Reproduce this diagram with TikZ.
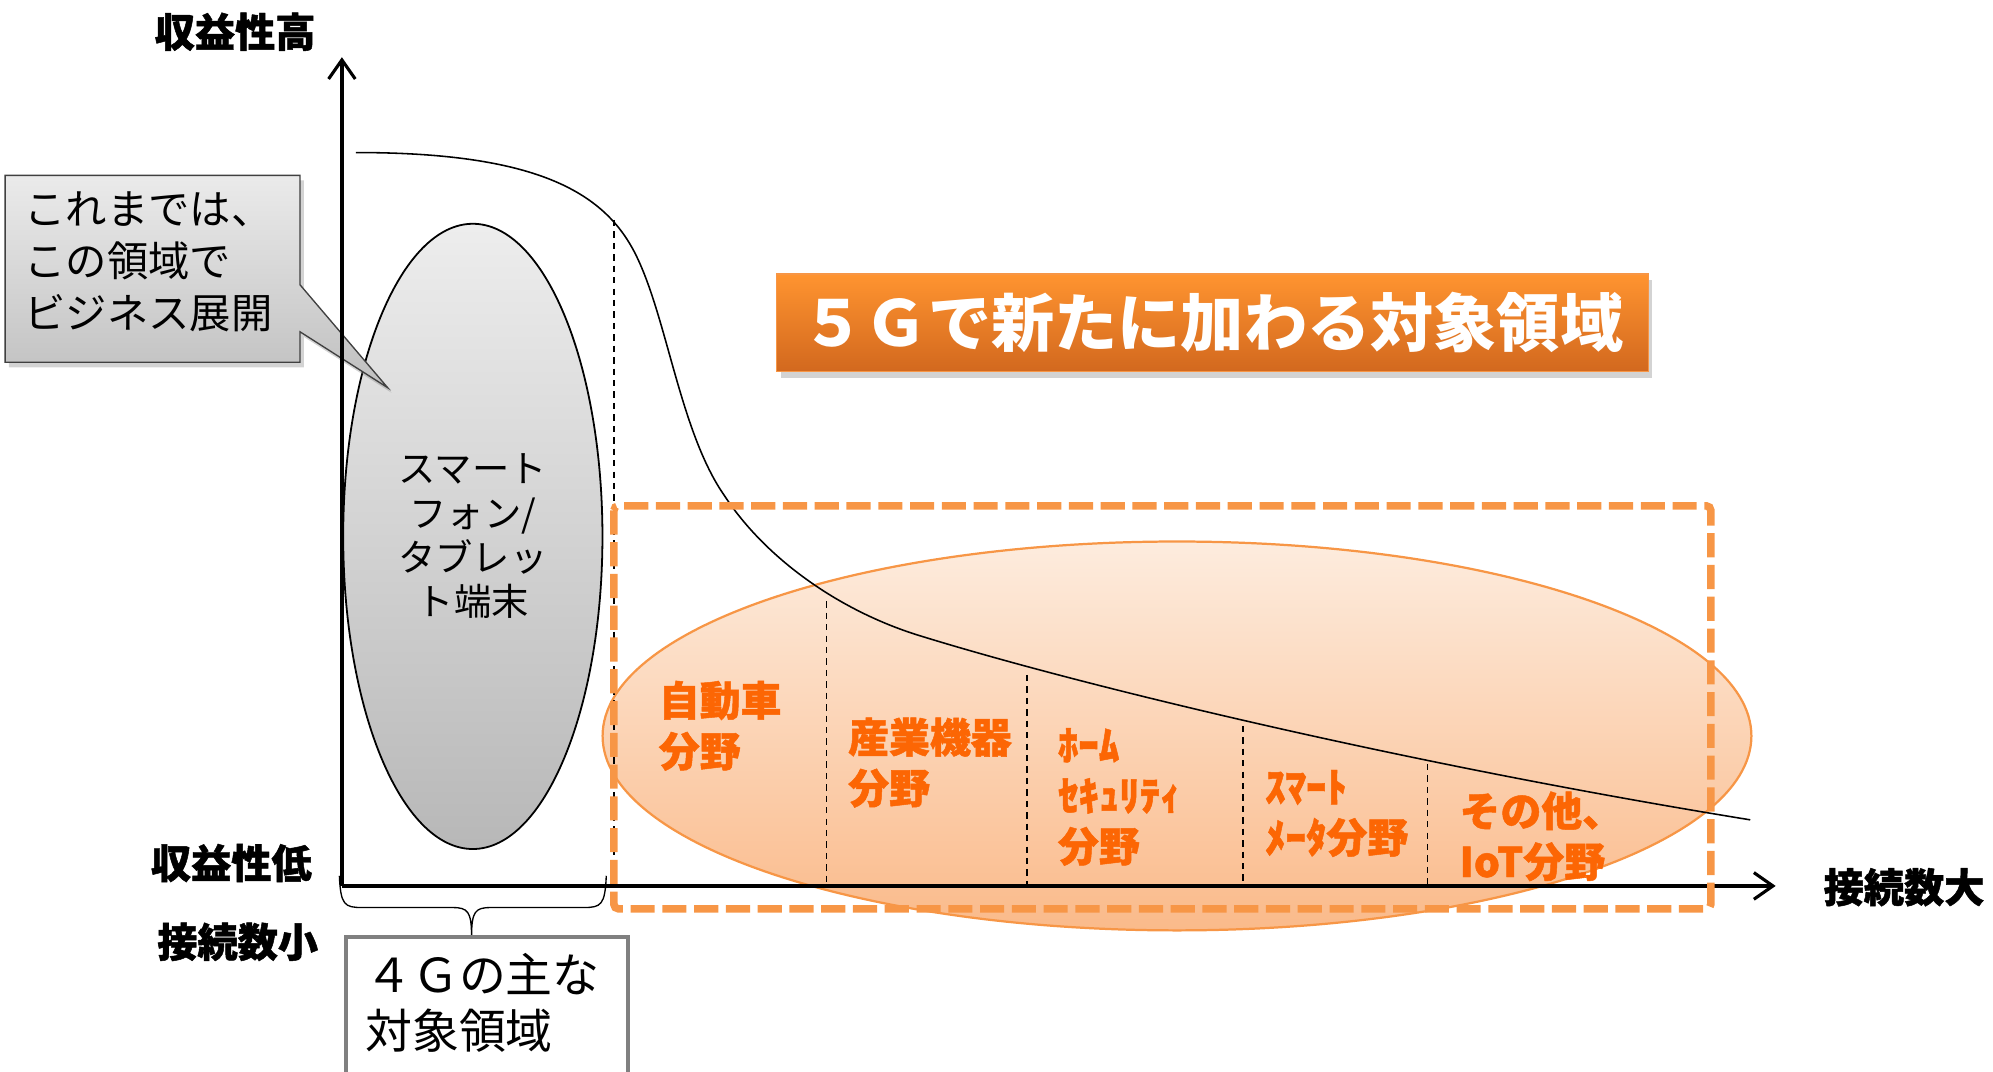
\documentclass[tikz,border=0pt]{standalone}
\usepackage{fontspec}
\setmainfont{Noto Sans CJK JP}
\newfontfamily\heavyjp{Noto Sans CJK JP}[BoldFeatures={FakeBold=1.2}]
\usetikzlibrary{arrows.meta,shapes.geometric,shadows}

\definecolor{accorange}{RGB}{247,150,70}
\definecolor{fieldorange}{RGB}{252,102,4}
\definecolor{bannertop}{RGB}{255,148,48}
\definecolor{bannerbot}{RGB}{210,104,30}
\definecolor{peachtop}{RGB}{253,236,222}
\definecolor{peachbot}{RGB}{250,186,138}
\definecolor{boxgray}{RGB}{128,128,128}

\begin{document}
\begin{tikzpicture}
  [x=0.02cm,y=-0.02cm,
   axis/.style={line width=1.7pt,-{Straight Barb[length=0.3cm,width=0.42cm,line width=1.4pt]}},
   axislabel/.style={font=\heavyjp\bfseries\fontsize{18}{22}\selectfont,inner sep=0pt},
   fieldlabel/.style={font=\heavyjp\bfseries\fontsize{18.3}{22.7}\selectfont,text=fieldorange,align=left,anchor=west,inner sep=0pt},
   divider/.style={line width=0.6pt,dash pattern=on 0.1cm off 0.08cm},
   profit/.style={line width=0.7pt}]
  \useasboundingbox (0,0) rectangle (1568,843);
  \tikzstyle{areaellipse} = [ellipse,draw=accorange,line width=1pt,top color=peachtop,bottom color=peachbot,
    minimum width=18.08cm,minimum height=6.12cm,inner sep=0pt]
  \tikzstyle{phoneellipse} = [ellipse,draw,line width=0.8pt,top color=black!7,bottom color=black!28,
    minimum width=4.08cm,minimum height=9.84cm,inner sep=0pt,align=center,
    font=\fontsize{16.7}{19.8}\selectfont]
  \tikzstyle{banner} = [draw=accorange,line width=0.6pt,top color=bannertop,bottom color=bannerbot,
    drop shadow={shadow xshift=0.06cm,shadow yshift=-0.1cm,opacity=0.35},
    minimum width=13.72cm,minimum height=1.54cm,text=white,font=\bfseries\fontsize{28.3}{32}\selectfont]

  % areas
  \node[areaellipse] (area) at (926,579) {};
  \node[phoneellipse] (phone) at (372,422) {スマート\\フォン/\\タブレッ\\ト端末};

  % callout
  \path[draw=black!75,line width=0.6pt,top color=black!8,bottom color=black!25,
    drop shadow={shadow xshift=0.06cm,shadow yshift=-0.08cm,opacity=0.35}]
    (4,138) -- (236,138) -- (236,224) -- (305,305) -- (236,261) -- (236,285) -- (4,285) -- cycle;
  \node[anchor=west,align=left,inner sep=0pt,font=\fontsize{18.5}{23.2}\selectfont] (sofar) at (19,206)
    {これまでは、\\この領域で\\ビジネス展開};

  % profitability curve
  \draw[profit] (280,120) .. controls (420,120) and (475,150) .. (500,200)
    .. controls (525,250) and (535,340) .. (570,390)
    .. controls (600,436) and (655,478) .. (720,499)
    .. controls (845,538) and (1100,600) .. (1377,645);

  \foreach \name/\x/\y in {dv0/483/173,dv1/650/473,dv2/808/531,dv3/978/571,dv4/1123/601}
  {
    \coordinate (\name t) at (\x,\y);
    \coordinate (\name b) at (\x,697);
    \draw[divider] (\name t) -- (\name b);
  }

  % axes
  \coordinate (origin) at (269,697);
  \coordinate (ytip) at (269,45);
  \coordinate (xtip) at (1397,697);
  \draw[axis] (origin) -- (ytip);
  \draw[axis] (origin) -- (xtip);

  \draw[accorange,line width=3.4pt,dash pattern=on 0.38cm off 0.12cm,rounded corners=2pt]
    (483,398) rectangle (1346,715);

  % fields
  \foreach \name/\x/\y/\txt in {car/518/571/{自動車\\分野},industry/667/600/{産業機器\\分野},
    home/832/627/{ﾎｰﾑ\\ｾｷｭﾘﾃｨ\\分野},meter/995/640/{ｽﾏｰﾄ\\ﾒｰﾀ分野},iot/1148/658/{その他、\\IoT分野}}
    \node[fieldlabel] (\name) at (\x,\y) {\txt};

  \node[banner] (title) at (954,254) {５Ｇで新たに加わる対象領域};

  % axis labels
  \node[axislabel] (high) at (185,25) {収益性高};
  \node[axislabel] (low) at (182,679) {収益性低};
  \node[axislabel] (few) at (187,741) {接続数小};
  \node[axislabel] (many) at (1498,698) {接続数大};

  % 4G region
  \draw[line width=0.6pt] (267,689) .. controls (268,712) and (271,714) .. (285,714) -- (356,714)
    .. controls (368,714) and (371,717) .. (371,737) .. controls (371,717) and (374,714) .. (386,714)
    -- (459,714) .. controls (473,714) and (476,712) .. (477,689);
  \draw[boxgray,line width=1.7pt,fill=white] (272,737) rectangle (494,870);
  \node[anchor=west,align=left,inner sep=0pt,font=\fontsize{21}{25}\selectfont] (fourg) at (287,789)
    {４Ｇの主な\\対象領域};
\end{tikzpicture}
\end{document}
